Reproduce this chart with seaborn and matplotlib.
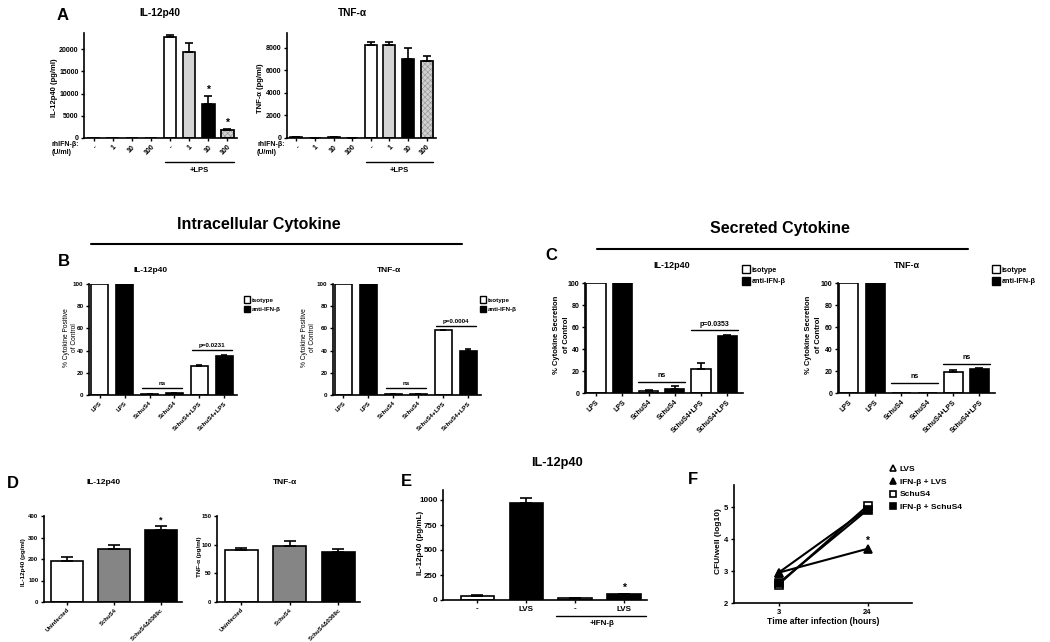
import numpy as np
import pandas as pd
import matplotlib
matplotlib.use('Agg')
import matplotlib.pyplot as plt
import seaborn as sns
from matplotlib.lines import Line2D
from matplotlib.patches import Patch, Rectangle

# ---------------- data ----------------
a_labels = ['-', '1', '10', '100', '-', '1', '10', '100']
a_il12 = [0, 0, 0, 0, 22700, 19300, 7600, 1900]
a_il12_err = [0, 0, 0, 0, 500, 2000, 1900, 150]
a_tnf = [100, 30, 60, 30, 8200, 8200, 7000, 6800]
a_tnf_err = [30, 10, 20, 10, 300, 300, 1000, 500]
a_colors = ['white', '#d4d4d4', 'black', '#d0d0d0'] * 2

bc_labels = ['LPS', 'LPS', 'SchuS4', 'SchuS4', 'SchuS4+LPS', 'SchuS4+LPS']
b_il12 = [100, 100, 1, 1.5, 26, 35]
b_il12_err = [0, 0, 0.3, 0.5, 1, 1]
b_tnf = [100, 100, 0.5, 0.8, 58.5, 40]
b_tnf_err = [0, 0, 0.2, 0.3, 0.5, 1.5]
c_il12 = [100, 100, 2, 3.5, 22, 52]
c_il12_err = [0, 0, 1, 2.5, 5, 1]
c_tnf = [100, 100, 0, 0, 19, 22]
c_tnf_err = [0, 0, 0, 0, 1.5, 0.5]
bc_colors = ['white', 'black'] * 3
legend_labels = ['isotype', 'anti-IFN-β']

d_labels = ['Uninfected', 'SchuS4', 'SchuS4Δ0369c']
d_il12 = [190, 245, 335]
d_il12_err = [20, 22, 20]
d_tnf = [91, 97, 87]
d_tnf_err = [4, 10, 5]
d_colors = ['white', '#858585', 'black']

e_labels = ['-', 'LVS', '-', 'LVS']
e_il12 = [45, 975, 20, 60]
e_il12_err = [8, 45, 5, 5]
e_colors = ['white', 'black', '#b0b0b0', 'black']

f_times = ['3', '24']
f_series = ['LVS', 'IFN-β + LVS', 'SchuS4', 'IFN-β + SchuS4']
f_lvs = [2.95, 4.95]
f_ifn_lvs = [2.95, 3.7]
f_schu = [2.58, 5.05]
f_ifn_schu = [2.62, 4.92]

# ---------------- style ----------------
sns.set_style('ticks')
plt.rcParams['font.family'] = ['Liberation Sans', 'DejaVu Sans']
plt.rcParams['font.weight'] = 'bold'
plt.rcParams['axes.labelweight'] = 'bold'
plt.rcParams['hatch.linewidth'] = 0.35
plt.rcParams['axes.linewidth'] = 1.2
for key in ('text.color', 'axes.labelcolor', 'xtick.color', 'ytick.color',
            'axes.edgecolor'):
    plt.rcParams[key] = 'black'

W, H = 1050, 642
fig = plt.figure(figsize=(W / 100, H / 100), dpi=100)


def add_ax(x0, y0, x1, y1):
    return fig.add_axes([x0 / W, 1 - y1 / H, (x1 - x0) / W, (y1 - y0) / H])


def T(x, y, s, **kw):
    kw.setdefault('ha', 'center')
    kw.setdefault('va', 'center')
    return fig.text(x / W, 1 - y / H, s, **kw)


def hline(x0, x1, y, lw=1.5):
    fig.add_artist(Line2D([x0 / W, x1 / W], [1 - y / H, 1 - y / H],
                          color='black', lw=lw, transform=fig.transFigure))


def bars(ax, labels, vals, errs, colors, width=0.65, lw=1.2, cap=3,
         fs=4.5, rot=45):
    n = len(vals)
    keys = [str(i) for i in range(n)]
    df = pd.DataFrame({'k': keys, 'v': vals})
    sns.barplot(data=df, x='k', y='v', hue='k', palette=colors, legend=False,
                edgecolor='black', linewidth=lw, width=width, saturation=1,
                ax=ax)
    idx = [i for i in range(n) if errs[i] > 0]
    ax.errorbar(idx, [vals[i] for i in idx],
                yerr=[np.zeros(len(idx)), [errs[i] for i in idx]],
                fmt='none', ecolor='black', elinewidth=lw, capsize=cap,
                capthick=lw, zorder=3)
    ax.set_xticks(range(n))
    if rot:
        ax.set_xticklabels(labels, rotation=rot, ha='right',
                           rotation_mode='anchor', fontsize=fs)
    else:
        ax.set_xticklabels(labels, fontsize=fs)
    ax.set_xlabel('')
    ax.set_ylabel('')
    ax.tick_params(axis='both', length=2.5, width=1, labelsize=fs, pad=1.5)
    sns.despine(ax=ax)


def hatch_bar(ax, i, lw=1.2):
    p = ax.patches[i]
    p.set_hatch('xxxxxx')
    p.set_edgecolor('#8a8a8a')
    ax.add_patch(Rectangle(p.get_xy(), p.get_width(), p.get_height(),
                           fill=False, edgecolor='black', lw=lw, zorder=2.5))


def sig(ax, x0, x1, y, text, pad, fs=4.5):
    ax.plot([x0, x1], [y, y], color='black', lw=1)
    ax.text((x0 + x1) / 2, y + pad, text, ha='center', va='bottom',
            fontsize=fs)


# ---------------- Panel A ----------------
T(57, 15, 'A', fontsize=12, ha='left')
axA1 = add_ax(84, 33, 237, 138)
bars(axA1, a_labels, a_il12, a_il12_err, a_colors, width=0.65, cap=3, fs=5)
hatch_bar(axA1, 7)
axA1.set_ylim(0, 23600)
axA1.set_yticks([0, 5000, 10000, 15000, 20000])
axA1.set_xlim(-0.5, 7.5)
for i in (6, 7):
    axA1.text(i, a_il12[i] + a_il12_err[i] + 300, '*', ha='center',
              va='bottom', fontsize=7.5)
T(160, 13, 'IL-12p40', fontsize=7.3)
T(54, 88, 'IL-12p40 (pg/ml)', rotation=90, fontsize=5.5)
T(52, 145, 'rhIFN-β:', fontsize=5, ha='left')
T(52, 153, '(U/ml)', fontsize=5, ha='left')

axA2 = add_ax(287, 33, 436, 138)
bars(axA2, a_labels, a_tnf, a_tnf_err, a_colors, width=0.65, cap=3, fs=5)
hatch_bar(axA2, 7)
axA2.set_ylim(0, 9300)
axA2.set_yticks([0, 2000, 4000, 6000, 8000])
axA2.set_xlim(-0.5, 7.5)
T(352, 13, 'TNF-α', fontsize=7.3)
T(260, 88, 'TNF-α (pg/ml)', rotation=90, fontsize=5.5)
T(257, 145, 'rhIFN-β:', fontsize=5, ha='left')
T(257, 153, '(U/ml)', fontsize=5, ha='left')

for ax in (axA1, axA2):
    tr = ax.get_xaxis_transform()
    ax.plot([3.75, 7.35], [-0.23, -0.23], color='black', lw=1,
            transform=tr, clip_on=False)
    ax.text(5.55, -0.28, '+LPS', ha='center', va='top', fontsize=5.5,
            transform=tr)

# ---------------- Header B / C ----------------
T(259, 225, 'Intracellular Cytokine', fontsize=11.5)
hline(91, 462, 244)
T(780, 229, 'Secreted Cytokine', fontsize=11.5)
hline(597, 968, 249)


def leg(ax, x, y, fs, hl, hh, ls):
    handles = [Patch(facecolor=c, edgecolor='black', lw=1, label=l)
               for c, l in zip(['white', 'black'], legend_labels)]
    ax.legend(handles=handles, loc='upper left',
              bbox_to_anchor=(x / W, 1 - y / H), bbox_transform=fig.transFigure,
              frameon=False, fontsize=fs, handlelength=hl, handleheight=hh,
              handletextpad=0.2, borderaxespad=0, borderpad=0,
              labelspacing=ls)


# ---------------- Panel B ----------------
T(58, 261, 'B', fontsize=12, ha='left')
axB1 = add_ax(89, 284, 237, 395)
bars(axB1, bc_labels, b_il12, b_il12_err, bc_colors, width=0.65, cap=2.5)
axB1.set_ylim(0, 100)
axB1.set_xlim(-0.42, 5.5)
sig(axB1, 1.7, 3.3, 6, 'ns', 2)
sig(axB1, 3.7, 5.3, max(b_il12[4:]) + 5.5, 'p=0.0231', 2)
T(151, 271, 'IL-12p40', fontsize=6)
T(66, 338, '% Cytokine Positive', rotation=90, fontsize=4.8,
  fontweight='normal')
T(75, 338, 'of Control', rotation=90, fontsize=4.8, fontweight='normal')
leg(axB1, 244, 296, 4.5, 1.0, 1.3, 0.45)

axB2 = add_ax(333, 284, 481, 395)
bars(axB2, bc_labels, b_tnf, b_tnf_err, bc_colors, width=0.65, cap=2.5)
axB2.set_ylim(0, 100)
axB2.set_xlim(-0.42, 5.5)
sig(axB2, 1.7, 3.3, 6, 'ns', 2)
sig(axB2, 3.7, 5.3, max(b_tnf[4:]) + 3.5, 'p=0.0004', 2)
T(389, 271, 'TNF-α', fontsize=6)
T(304, 338, '% Cytokine Positive', rotation=90, fontsize=4.8,
  fontweight='normal')
T(313, 338, 'of Control', rotation=90, fontsize=4.8, fontweight='normal')
leg(axB2, 480, 296, 4.5, 1.0, 1.3, 0.45)

# ---------------- Panel C ----------------
T(545, 256, 'C', fontsize=12, ha='left')
axC1 = add_ax(585, 283, 743, 393)
bars(axC1, bc_labels, c_il12, c_il12_err, bc_colors, width=0.73, cap=3,
     fs=5)
axC1.set_ylim(0, 100)
axC1.set_xlim(-0.42, 5.6)
sig(axC1, 1.6, 3.4, 10, 'ns', 2.5, fs=5)
sig(axC1, 3.6, 5.4, max(c_il12[4:]) + 5, 'p=0.0353', 2.5, fs=5)
T(672, 266, 'IL-12p40', fontsize=6.5)
T(556, 335, '% Cytokine Secretion', rotation=90, fontsize=5.5)
T(566, 335, 'of Control', rotation=90, fontsize=5.5)
leg(axC1, 742, 265, 5.2, 1.1, 1.4, 0.45)

axC2 = add_ax(838, 283, 995, 393)
bars(axC2, bc_labels, c_tnf, c_tnf_err, bc_colors, width=0.73, cap=3, fs=5)
axC2.set_ylim(0, 100)
axC2.set_xlim(-0.42, 5.6)
sig(axC2, 1.6, 3.4, 9, 'ns', 2.5, fs=5)
sig(axC2, 3.6, 5.4, max(c_tnf[4:]) + 4.5, 'ns', 2.5, fs=5)
T(907, 266, 'TNF-α', fontsize=6.5)
T(809, 335, '% Cytokine Secretion', rotation=90, fontsize=5.5)
T(819, 335, 'of Control', rotation=90, fontsize=5.5)
leg(axC2, 992, 265, 5.2, 1.1, 1.4, 0.45)

# ---------------- Panel D ----------------
T(7, 483, 'D', fontsize=12, ha='left')
axD1 = add_ax(44, 516, 182, 602)
bars(axD1, d_labels, d_il12, d_il12_err, d_colors, width=0.68, cap=4,
     fs=4.3)
axD1.set_ylim(0, 400)
axD1.set_yticks([0, 100, 200, 300, 400])
axD1.set_xlim(-0.5, 2.45)
axD1.text(2, d_il12[2] + d_il12_err[2] + 4, '*', ha='center', va='bottom',
          fontsize=6.5)
T(104, 483, 'IL-12p40', fontsize=6)
T(23, 562, 'IL-12p40 (pg/ml)', rotation=90, fontsize=4.5)

axD2 = add_ax(217, 516, 360, 602)
bars(axD2, d_labels, d_tnf, d_tnf_err, d_colors, width=0.68, cap=4, fs=4.3)
axD2.set_ylim(0, 150)
axD2.set_yticks([0, 50, 100, 150])
axD2.set_xlim(-0.5, 2.45)
T(285, 483, 'TNF-α', fontsize=6)
T(199, 557, 'TNF-α (pg/ml)', rotation=90, fontsize=4.5)

# ---------------- Panel E ----------------
T(401, 482, 'E', fontsize=12, ha='left')
axE = add_ax(443, 490, 647, 600)
bars(axE, e_labels, e_il12, e_il12_err, e_colors, width=0.68, cap=4,
     fs=5.8, rot=0)
axE.set_ylim(0, 1100)
axE.set_yticks([0, 250, 500, 750, 1000])
axE.set_xlim(-0.7, 3.47)
axE.text(3, e_il12[3] + e_il12_err[3] + 8, '*', ha='center', va='bottom',
         fontsize=7.5)
T(557, 463, 'IL-12p40', fontsize=9.2)
T(420, 543, 'IL-12p40 (pg/mL)', rotation=90, fontsize=5.8)
trE = axE.get_xaxis_transform()
axE.plot([1.6, 3.45], [-0.145, -0.145], color='black', lw=1, transform=trE,
         clip_on=False)
axE.text(2.55, -0.18, '+IFN-β', ha='center', va='top', fontsize=5.8,
         transform=trE)

# ---------------- Panel F ----------------
T(688, 479, 'F', fontsize=12, ha='left')
axF = add_ax(734, 485, 912, 603)
f_vals = [f_lvs, f_ifn_lvs, f_schu, f_ifn_schu]
f_markers = ['^', '^', 's', 's']
f_faces = ['white', 'black', 'white', 'black']
rows = []
for s, v in zip(f_series, f_vals):
    for t, y in zip(f_times, v):
        rows.append({'series': s, 'time': t, 'pos': f_times.index(t), 'cfu': y})
dfF = pd.DataFrame(rows)
handles = []
for s, m, fc in zip(f_series, f_markers, f_faces):
    sub = dfF[dfF['series'] == s]
    sns.lineplot(data=sub, x='pos', y='cfu', color='black', lw=1.5,
                 marker=m, markersize=5.5, markerfacecolor=fc,
                 markeredgecolor='black', markeredgewidth=1.2, ax=axF,
                 legend=False)
    handles.append(Line2D([], [], ls='none', marker=m, markersize=5,
                          markerfacecolor=fc, markeredgecolor='black',
                          markeredgewidth=1.2, label=s))
axF.set_xlim(-0.5, 1.5)
axF.set_xticks(range(len(f_times)))
axF.set_xticklabels(f_times)
axF.set_ylim(2, 5.7)
axF.set_yticks([2, 3, 4, 5])
axF.set_xlabel('')
axF.set_ylabel('')
axF.tick_params(axis='both', length=2.5, width=1, labelsize=5.5, pad=1.5)
sns.despine(ax=axF)
axF.text(1, f_ifn_lvs[1] + 0.1, '*', ha='center', va='bottom', fontsize=7.5)
T(823, 621, 'Time after infection (hours)', fontsize=6.2)
T(718, 541, 'CFU/well (log10)', rotation=90, fontsize=6.0)
axF.legend(handles=handles, loc='upper left',
           bbox_to_anchor=(890 / W, 1 - 465 / H),
           bbox_transform=fig.transFigure, frameon=False, fontsize=6,
           handlelength=0.8, handletextpad=0.4, borderaxespad=0, borderpad=0,
           labelspacing=0.6)

fig.savefig('out.png', dpi=100, facecolor='white')
